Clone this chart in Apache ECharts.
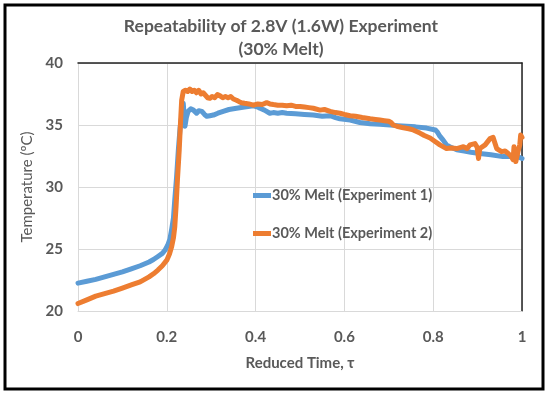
<!DOCTYPE html>
<html>
<head>
<meta charset="utf-8">
<script src="https://cdn.jsdelivr.net/npm/echarts@6/dist/echarts.min.js"></script>
<style>
html,body{margin:0;padding:0;background:#fff;}
#c{width:550px;height:396px;}
</style>
</head>
<body>
<div id="c"></div>
<script>
var titleText = 'Repeatability of 2.8V (1.6W) Experiment\n(30% Melt)';
var xName = 'Reduced Time, \u03c4';
var yName = 'Temperature (\u00baC)';
var seriesNames = ['30% Melt (Experiment 1)', '30% Melt (Experiment 2)'];
var xTicks = [0, 0.2, 0.4, 0.6, 0.8, 1];
var yTicks = [20, 25, 30, 35, 40];

var tau1 = [0,0.02,0.04,0.06,0.08,0.10,0.12,0.14,0.16,0.17,0.18,0.19,0.196,0.202,0.207,0.211,0.215,0.218,0.222,0.226,0.230,0.2335,0.237,0.241,0.244,0.248,0.254,0.26,0.264,0.267,0.272,0.279,0.285,0.29,0.297,0.305,0.315,0.327,0.34,0.357,0.375,0.395,0.405,0.41,0.42,0.432,0.44,0.45,0.46,0.47,0.49,0.51,0.53,0.55,0.568,0.58,0.59,0.613,0.635,0.658,0.68,0.703,0.72,0.74,0.76,0.785,0.805,0.81,0.815,0.822,0.83,0.84,0.853,0.87,0.885,0.905,0.93,0.957,0.975,0.99,1.0];
var temp1 = [22.25,22.4,22.55,22.75,22.95,23.15,23.4,23.65,23.95,24.15,24.4,24.65,24.9,25.3,25.8,26.6,27.5,29.0,30.8,33.0,34.8,35.7,36.75,34.9,35.6,36.1,36.3,36.2,36.1,35.95,36.15,36.1,35.85,35.7,35.75,35.8,35.95,36.1,36.25,36.35,36.45,36.55,36.45,36.35,36.2,35.95,36.0,35.95,36.0,35.95,35.9,35.85,35.8,35.7,35.75,35.6,35.5,35.4,35.2,35.1,35.05,35.0,34.95,34.9,34.85,34.75,34.6,34.4,34.1,33.8,33.4,33.2,33.0,32.9,32.8,32.7,32.6,32.45,32.45,32.45,32.3];

var tau2 = [0,0.02,0.04,0.06,0.08,0.10,0.12,0.14,0.16,0.17,0.18,0.19,0.20,0.206,0.211,0.215,0.218,0.221,0.224,0.228,0.231,0.2335,0.237,0.242,0.247,0.252,0.257,0.262,0.267,0.272,0.277,0.282,0.287,0.292,0.297,0.302,0.308,0.314,0.32,0.326,0.332,0.338,0.344,0.35,0.357,0.362,0.368,0.375,0.385,0.395,0.405,0.415,0.425,0.432,0.44,0.45,0.46,0.47,0.48,0.49,0.50,0.51,0.52,0.53,0.545,0.555,0.568,0.58,0.59,0.60,0.613,0.625,0.64,0.658,0.67,0.68,0.69,0.70,0.705,0.71,0.718,0.73,0.745,0.755,0.77,0.78,0.793,0.805,0.815,0.83,0.84,0.853,0.868,0.876,0.883,0.894,0.899,0.902,0.905,0.917,0.928,0.935,0.939,0.943,0.954,0.962,0.969,0.975,0.98,0.982,0.986,0.991,0.995,0.997,1.0];
var temp2 = [20.6,20.9,21.2,21.4,21.6,21.85,22.1,22.35,22.75,23.0,23.3,23.65,24.1,24.6,25.2,25.9,26.8,28.5,30.6,33.0,35.3,37.0,37.7,37.8,37.7,37.9,37.7,37.8,37.6,37.8,37.5,37.6,37.4,37.2,37.15,37.3,37.2,37.45,37.35,37.2,37.3,37.2,37.3,37.1,37.0,36.9,36.8,36.75,36.7,36.6,36.7,36.65,36.8,36.7,36.65,36.6,36.6,36.55,36.6,36.5,36.5,36.45,36.4,36.35,36.2,36.25,36.1,36.0,35.95,35.85,35.75,35.7,35.6,35.5,35.45,35.4,35.35,35.3,35.2,35.0,34.9,34.8,34.7,34.6,34.35,34.15,33.95,33.65,33.4,33.1,33.15,33.1,33.25,33.1,33.4,33.5,33.2,32.3,33.1,33.4,33.9,34.0,33.95,33.1,32.85,32.9,32.7,32.5,32.2,33.25,32.05,32.85,33.4,34.2,34.0];

function zip(a, b) { return a.map(function (v, i) { return [v, b[i]]; }); }

var FONT = 'Lato';
var GRAY = '#595959';
var chart = echarts.init(document.getElementById('c'));
chart.setOption({
  animation: false,
  backgroundColor: '#fff',
  title: {
    text: titleText, left: 276, top: 10, textAlign: 'center',
    textStyle: { fontFamily: FONT, fontSize: 17.5, fontWeight: 'bold', color: GRAY, lineHeight: 23 }
  },
  legend: {
    left: 253, top: 188, orient: 'vertical', itemGap: 23, padding: 0,
    itemWidth: 18, itemHeight: 5, icon: 'rect',
    textStyle: { fontFamily: FONT, fontSize: 14.5, fontWeight: 'bold', color: GRAY, lineHeight: 14, padding: [0,0,0,-4] },
    data: seriesNames
  },
  grid: { left: 78, right: 28, top: 63, bottom: 85 },
  xAxis: [{
    type: 'value', min: xTicks[0], max: xTicks[xTicks.length-1], interval: 0.2,
    name: xName, nameLocation: 'middle', nameGap: 45,
    nameTextStyle: { fontFamily: FONT, fontSize: 15, fontWeight: 'bold', color: GRAY },
    axisLine: { show: true, lineStyle: { color: '#d9d9d9', width: 1 } },
    axisTick: { show: false },
    axisLabel: { margin: 19, fontFamily: FONT, fontSize: 15, fontWeight: 'bold', color: GRAY },
    splitLine: { show: true, lineStyle: { color: '#d9d9d9', width: 1 } }
  }, {
    type: 'value', position: 'top', min: xTicks[0], max: xTicks[xTicks.length-1],
    axisLine: { show: true, onZero: false, lineStyle: { color: '#222', width: 1.5 } },
    axisTick: { show: false }, axisLabel: { show: false }, splitLine: { show: false }
  }],
  yAxis: [{
    type: 'value', min: yTicks[0], max: yTicks[yTicks.length-1], interval: 5,
    name: yName, nameLocation: 'middle', nameGap: 40,
    nameTextStyle: { fontFamily: FONT, fontSize: 15, color: GRAY },
    axisLine: { show: true, lineStyle: { color: '#d9d9d9', width: 1 } },
    axisTick: { show: false },
    axisLabel: { margin: 15, fontFamily: FONT, fontSize: 15, fontWeight: 'bold', color: GRAY },
    splitLine: { show: true, lineStyle: { color: '#d9d9d9', width: 1 } }
  }, {
    type: 'value', position: 'right', min: yTicks[0], max: yTicks[yTicks.length-1],
    axisLine: { show: true, onZero: false, lineStyle: { color: '#222', width: 1.5 } },
    axisTick: { show: false }, axisLabel: { show: false }, splitLine: { show: false }
  }],
  graphic: [{
    type: 'rect', shape: { x: 5, y: 5, width: 538, height: 384 },
    style: { fill: 'none', stroke: '#000', lineWidth: 3 }, silent: true, z: 100
  }],
  series: [{
    name: seriesNames[0], type: 'line', data: zip(tau1, temp1),
    showSymbol: false, symbol: 'none', color: '#5b9bd5',
    lineStyle: { width: 5, color: '#5b9bd5', join: 'round', cap: 'round' }
  }, {
    name: seriesNames[1], type: 'line', data: zip(tau2, temp2),
    showSymbol: false, symbol: 'none', color: '#ed7d31',
    lineStyle: { width: 5, color: '#ed7d31', join: 'round', cap: 'round' }
  }]
});
</script>
</body>
</html>
